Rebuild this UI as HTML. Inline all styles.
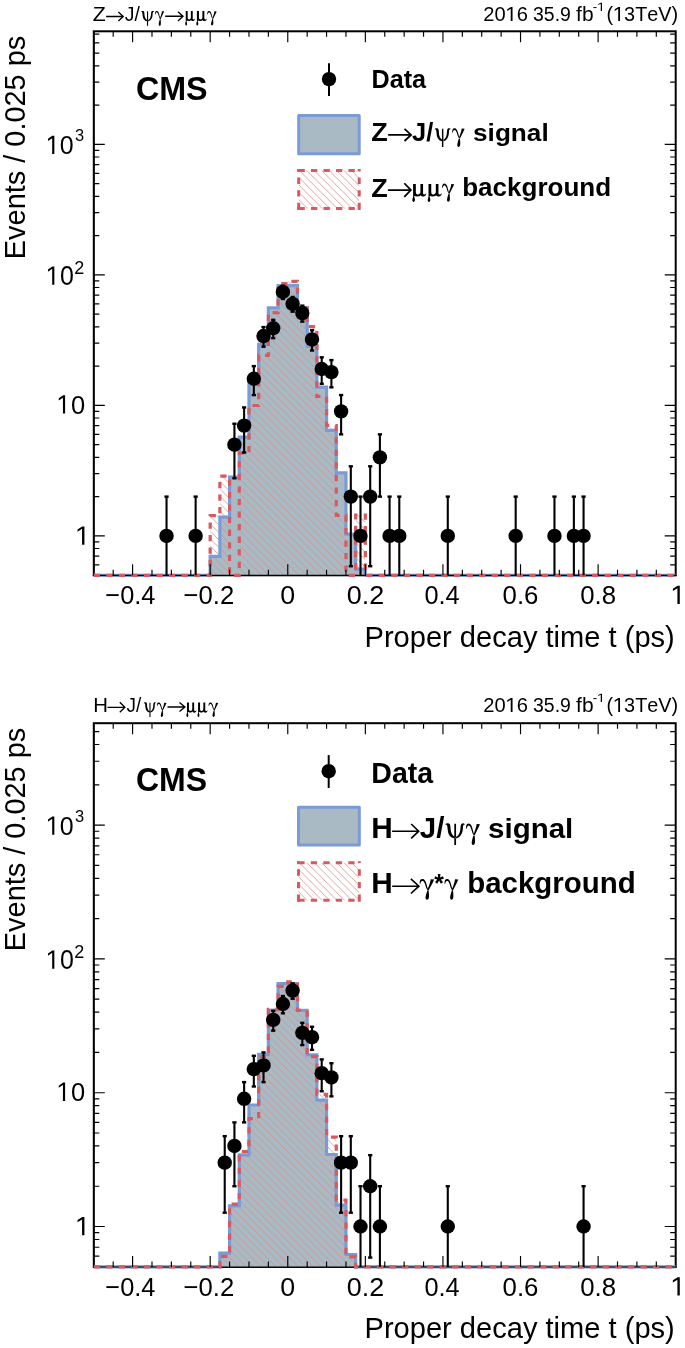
<!DOCTYPE html><html><head><meta charset="utf-8"><style>html,body{margin:0;padding:0;background:#fff;overflow:hidden;}svg{display:block;will-change:transform;}text{font-kerning:none;fill:#000;}</style></head><body>
<svg width="685" height="1348" viewBox="0 0 685 1348">
<rect width="685" height="1348" fill="#fff"/>
<defs>
<pattern id="h0" patternUnits="userSpaceOnUse" x="0" y="0.7" width="7.45" height="7.45"><path d="M-1 -1 L8.45 8.45 M6.45 -1 L8.45 1 M-1 6.45 L1 8.45" stroke="#d48c84" stroke-width="0.8" fill="none"/></pattern>
<pattern id="h1" patternUnits="userSpaceOnUse" x="0" y="7.3" width="7.45" height="7.45"><path d="M-1 -1 L8.45 8.45 M6.45 -1 L8.45 1 M-1 6.45 L1 8.45" stroke="#d48c84" stroke-width="0.8" fill="none"/></pattern>
<pattern id="hL0" patternUnits="userSpaceOnUse" x="0" y="5.3" width="7.45" height="7.45"><path d="M-1 -1 L8.45 8.45 M6.45 -1 L8.45 1 M-1 6.45 L1 8.45" stroke="#d48c84" stroke-width="0.8" fill="none"/></pattern>
<pattern id="hL1" patternUnits="userSpaceOnUse" x="0" y="4.6" width="7.45" height="7.45"><path d="M-1 -1 L8.45 8.45 M6.45 -1 L8.45 1 M-1 6.45 L1 8.45" stroke="#d48c84" stroke-width="0.8" fill="none"/></pattern>
</defs>
<rect x="93.8" y="31.3" width="581.9" height="544" fill="none" stroke="#000" stroke-width="2"/>
<path d="M93.8 575.3 L210.18 575.3 L210.18 556.3 L219.878 556.3 L219.878 517.2 L229.577 517.2 L229.577 477.2 L239.275 477.2 L239.275 437.2 L248.973 437.2 L248.973 383.9 L258.672 383.9 L258.672 344.4 L268.37 344.4 L268.37 307.8 L278.068 307.8 L278.068 285.7 L297.465 285.7 L297.465 307.6 L307.163 307.6 L307.163 346.1 L316.862 346.1 L316.862 387.1 L326.56 387.1 L326.56 430.4 L336.258 430.4 L336.258 472.8 L345.957 472.8 L345.957 534.1 L355.655 534.1 L355.655 569.1 L365.353 569.1 L365.353 575.3 L675.7 575.3 L675.7 575.3 L93.8 575.3 Z" fill="#aabac5"/>
<path d="M93.8 575.3 L210.18 575.3 L210.18 515.6 L219.878 515.6 L219.878 476.1 L229.577 476.1 L229.577 575.3 L239.275 575.3 L239.275 453.1 L248.973 453.1 L248.973 405.5 L258.672 405.5 L258.672 355.3 L268.37 355.3 L268.37 312.7 L278.068 312.7 L278.068 283.7 L287.767 283.7 L287.767 281.3 L297.465 281.3 L297.465 308 L307.163 308 L307.163 326.6 L316.862 326.6 L316.862 396.5 L326.56 396.5 L326.56 425.5 L336.258 425.5 L336.258 515.4 L345.957 515.4 L345.957 575.3 L355.655 575.3 L355.655 515 L365.353 515 L365.353 575.3 L675.7 575.3 L675.7 575.3 L93.8 575.3 Z" fill="url(#h0)"/>
<path d="M93.8 575.3 L210.18 575.3 L210.18 556.3 L219.878 556.3 L219.878 517.2 L229.577 517.2 L229.577 477.2 L239.275 477.2 L239.275 437.2 L248.973 437.2 L248.973 383.9 L258.672 383.9 L258.672 344.4 L268.37 344.4 L268.37 307.8 L278.068 307.8 L278.068 285.7 L297.465 285.7 L297.465 307.6 L307.163 307.6 L307.163 346.1 L316.862 346.1 L316.862 387.1 L326.56 387.1 L326.56 430.4 L336.258 430.4 L336.258 472.8 L345.957 472.8 L345.957 534.1 L355.655 534.1 L355.655 569.1 L365.353 569.1 L365.353 575.3 L675.7 575.3" fill="none" stroke="#7b9bd6" stroke-width="3.2" stroke-linejoin="miter"/>
<path d="M92.8 575.4 H676.7 M93.8 31.3 V575.3" stroke="#000" stroke-width="1.1" fill="none"/>
<path d="M93.8 575.3 L210.18 575.3 L210.18 515.6 L219.878 515.6 L219.878 476.1 L229.577 476.1 L229.577 575.3 L239.275 575.3 L239.275 453.1 L248.973 453.1 L248.973 405.5 L258.672 405.5 L258.672 355.3 L268.37 355.3 L268.37 312.7 L278.068 312.7 L278.068 283.7 L287.767 283.7 L287.767 281.3 L297.465 281.3 L297.465 308 L307.163 308 L307.163 326.6 L316.862 326.6 L316.862 396.5 L326.56 396.5 L326.56 425.5 L336.258 425.5 L336.258 515.4 L345.957 515.4 L345.957 575.3 L355.655 575.3 L355.655 515 L365.353 515 L365.353 575.3 L675.7 575.3" fill="none" stroke="#d65a60" stroke-width="3.2" stroke-dasharray="6.3 6.248" stroke-dashoffset="0.15" stroke-linejoin="miter"/>
<path d="M113.197 575.3 V569.8 M113.197 31.3 V36.8 M132.593 575.3 V564.3 M132.593 31.3 V42.3 M151.99 575.3 V569.8 M151.99 31.3 V36.8 M171.387 575.3 V569.8 M171.387 31.3 V36.8 M190.783 575.3 V569.8 M190.783 31.3 V36.8 M210.18 575.3 V564.3 M210.18 31.3 V42.3 M229.577 575.3 V569.8 M229.577 31.3 V36.8 M248.973 575.3 V569.8 M248.973 31.3 V36.8 M268.37 575.3 V569.8 M268.37 31.3 V36.8 M287.767 575.3 V564.3 M287.767 31.3 V42.3 M307.163 575.3 V569.8 M307.163 31.3 V36.8 M326.56 575.3 V569.8 M326.56 31.3 V36.8 M345.957 575.3 V569.8 M345.957 31.3 V36.8 M365.353 575.3 V564.3 M365.353 31.3 V42.3 M384.75 575.3 V569.8 M384.75 31.3 V36.8 M404.147 575.3 V569.8 M404.147 31.3 V36.8 M423.543 575.3 V569.8 M423.543 31.3 V36.8 M442.94 575.3 V564.3 M442.94 31.3 V42.3 M462.337 575.3 V569.8 M462.337 31.3 V36.8 M481.733 575.3 V569.8 M481.733 31.3 V36.8 M501.13 575.3 V569.8 M501.13 31.3 V36.8 M520.527 575.3 V564.3 M520.527 31.3 V42.3 M539.923 575.3 V569.8 M539.923 31.3 V36.8 M559.32 575.3 V569.8 M559.32 31.3 V36.8 M578.717 575.3 V569.8 M578.717 31.3 V36.8 M598.113 575.3 V564.3 M598.113 31.3 V42.3 M617.51 575.3 V569.8 M617.51 31.3 V36.8 M636.907 575.3 V569.8 M636.907 31.3 V36.8 M656.303 575.3 V569.8 M656.303 31.3 V36.8 M93.8 564.851 H99.3 M675.7 564.851 H670.2 M93.8 556.115 H99.3 M675.7 556.115 H670.2 M93.8 548.547 H99.3 M675.7 548.547 H670.2 M93.8 541.871 H99.3 M675.7 541.871 H670.2 M93.8 535.9 H104.8 M675.7 535.9 H664.7 M93.8 496.616 H99.3 M675.7 496.616 H670.2 M93.8 473.636 H99.3 M675.7 473.636 H670.2 M93.8 457.331 H99.3 M675.7 457.331 H670.2 M93.8 444.684 H99.3 M675.7 444.684 H670.2 M93.8 434.351 H99.3 M675.7 434.351 H670.2 M93.8 425.615 H99.3 M675.7 425.615 H670.2 M93.8 418.047 H99.3 M675.7 418.047 H670.2 M93.8 411.371 H99.3 M675.7 411.371 H670.2 M93.8 405.4 H104.8 M675.7 405.4 H664.7 M93.8 366.116 H99.3 M675.7 366.116 H670.2 M93.8 343.136 H99.3 M675.7 343.136 H670.2 M93.8 326.831 H99.3 M675.7 326.831 H670.2 M93.8 314.184 H99.3 M675.7 314.184 H670.2 M93.8 303.851 H99.3 M675.7 303.851 H670.2 M93.8 295.115 H99.3 M675.7 295.115 H670.2 M93.8 287.547 H99.3 M675.7 287.547 H670.2 M93.8 280.871 H99.3 M675.7 280.871 H670.2 M93.8 274.9 H104.8 M675.7 274.9 H664.7 M93.8 235.616 H99.3 M675.7 235.616 H670.2 M93.8 212.636 H99.3 M675.7 212.636 H670.2 M93.8 196.331 H99.3 M675.7 196.331 H670.2 M93.8 183.684 H99.3 M675.7 183.684 H670.2 M93.8 173.351 H99.3 M675.7 173.351 H670.2 M93.8 164.615 H99.3 M675.7 164.615 H670.2 M93.8 157.047 H99.3 M675.7 157.047 H670.2 M93.8 150.371 H99.3 M675.7 150.371 H670.2 M93.8 144.4 H104.8 M675.7 144.4 H664.7 M93.8 105.116 H99.3 M675.7 105.116 H670.2 M93.8 82.136 H99.3 M675.7 82.136 H670.2 M93.8 65.831 H99.3 M675.7 65.831 H670.2 M93.8 53.184 H99.3 M675.7 53.184 H670.2 M93.8 42.851 H99.3 M675.7 42.851 H670.2 M93.8 34.115 H99.3 M675.7 34.115 H670.2" stroke="#000" stroke-width="1.15" fill="none"/>
<g fill="#000"><path d="M166.538 496.616 V575.3" stroke="#000" stroke-width="2.1"/><rect x="164.438" y="495.416" width="4.2" height="2.4"/><circle cx="166.538" cy="535.9" r="7.2"/><path d="M195.633 496.616 V575.3" stroke="#000" stroke-width="2.1"/><rect x="193.533" y="495.416" width="4.2" height="2.4"/><circle cx="195.633" cy="535.9" r="7.2"/><path d="M234.426 423.735 V478.281" stroke="#000" stroke-width="2.1"/><rect x="232.326" y="422.535" width="4.2" height="2.4"/><rect x="232.326" y="477.081" width="4.2" height="2.4"/><circle cx="234.426" cy="444.684" r="7.2"/><path d="M244.124 407.444 V452.522" stroke="#000" stroke-width="2.1"/><rect x="242.024" y="406.244" width="4.2" height="2.4"/><rect x="242.024" y="451.322" width="4.2" height="2.4"/><circle cx="244.124" cy="425.615" r="7.2"/><path d="M253.822 366.116 V395.067" stroke="#000" stroke-width="2.1"/><rect x="251.722" y="364.916" width="4.2" height="2.4"/><rect x="251.722" y="393.867" width="4.2" height="2.4"/><circle cx="253.822" cy="378.762" r="7.2"/><path d="M263.521 327.071 V346.705" stroke="#000" stroke-width="2.1"/><rect x="261.421" y="325.871" width="4.2" height="2.4"/><rect x="261.421" y="345.505" width="4.2" height="2.4"/><circle cx="263.521" cy="336.042" r="7.2"/><path d="M273.219 319.848 V338.156" stroke="#000" stroke-width="2.1"/><rect x="271.119" y="318.648" width="4.2" height="2.4"/><rect x="271.119" y="336.956" width="4.2" height="2.4"/><circle cx="273.219" cy="328.266" r="7.2"/><path d="M282.918 285.733 V298.969" stroke="#000" stroke-width="2.1"/><rect x="280.817" y="284.533" width="4.2" height="2.4"/><rect x="280.817" y="297.769" width="4.2" height="2.4"/><circle cx="282.918" cy="291.965" r="7.2"/><path d="M292.616 296.97 V311.685" stroke="#000" stroke-width="2.1"/><rect x="290.516" y="295.77" width="4.2" height="2.4"/><rect x="290.516" y="310.485" width="4.2" height="2.4"/><circle cx="292.616" cy="303.851" r="7.2"/><path d="M302.314 305.635 V321.612" stroke="#000" stroke-width="2.1"/><rect x="300.214" y="304.435" width="4.2" height="2.4"/><rect x="300.214" y="320.412" width="4.2" height="2.4"/><circle cx="302.314" cy="313.062" r="7.2"/><path d="M312.013 330.252 V350.503" stroke="#000" stroke-width="2.1"/><rect x="309.913" y="329.052" width="4.2" height="2.4"/><rect x="309.913" y="349.303" width="4.2" height="2.4"/><circle cx="312.013" cy="339.478" r="7.2"/><path d="M321.711 357.317 V383.793" stroke="#000" stroke-width="2.1"/><rect x="319.611" y="356.117" width="4.2" height="2.4"/><rect x="319.611" y="382.593" width="4.2" height="2.4"/><circle cx="321.711" cy="369.023" r="7.2"/><path d="M331.409 360.092 V387.321" stroke="#000" stroke-width="2.1"/><rect x="329.309" y="358.892" width="4.2" height="2.4"/><rect x="329.309" y="386.121" width="4.2" height="2.4"/><circle cx="331.409" cy="372.087" r="7.2"/><path d="M341.108 395.067 V434.351" stroke="#000" stroke-width="2.1"/><rect x="339.007" y="393.867" width="4.2" height="2.4"/><rect x="339.007" y="433.151" width="4.2" height="2.4"/><circle cx="341.108" cy="411.371" r="7.2"/><path d="M350.806 466.306 V566.21" stroke="#000" stroke-width="2.1"/><rect x="348.706" y="465.106" width="4.2" height="2.4"/><rect x="348.706" y="565.01" width="4.2" height="2.4"/><circle cx="350.806" cy="496.616" r="7.2"/><path d="M360.504 496.616 V575.3" stroke="#000" stroke-width="2.1"/><rect x="358.404" y="495.416" width="4.2" height="2.4"/><circle cx="360.504" cy="535.9" r="7.2"/><path d="M370.203 466.306 V566.21" stroke="#000" stroke-width="2.1"/><rect x="368.103" y="465.106" width="4.2" height="2.4"/><rect x="368.103" y="565.01" width="4.2" height="2.4"/><circle cx="370.203" cy="496.616" r="7.2"/><path d="M379.901 434.351 V496.616" stroke="#000" stroke-width="2.1"/><rect x="377.801" y="433.151" width="4.2" height="2.4"/><rect x="377.801" y="495.416" width="4.2" height="2.4"/><circle cx="379.901" cy="457.331" r="7.2"/><path d="M389.599 496.616 V575.3" stroke="#000" stroke-width="2.1"/><rect x="387.499" y="495.416" width="4.2" height="2.4"/><circle cx="389.599" cy="535.9" r="7.2"/><path d="M399.298 496.616 V575.3" stroke="#000" stroke-width="2.1"/><rect x="397.198" y="495.416" width="4.2" height="2.4"/><circle cx="399.298" cy="535.9" r="7.2"/><path d="M447.789 496.616 V575.3" stroke="#000" stroke-width="2.1"/><rect x="445.689" y="495.416" width="4.2" height="2.4"/><circle cx="447.789" cy="535.9" r="7.2"/><path d="M515.678 496.616 V575.3" stroke="#000" stroke-width="2.1"/><rect x="513.577" y="495.416" width="4.2" height="2.4"/><circle cx="515.678" cy="535.9" r="7.2"/><path d="M554.471 496.616 V575.3" stroke="#000" stroke-width="2.1"/><rect x="552.371" y="495.416" width="4.2" height="2.4"/><circle cx="554.471" cy="535.9" r="7.2"/><path d="M573.868 496.616 V575.3" stroke="#000" stroke-width="2.1"/><rect x="571.768" y="495.416" width="4.2" height="2.4"/><circle cx="573.868" cy="535.9" r="7.2"/><path d="M583.566 496.616 V575.3" stroke="#000" stroke-width="2.1"/><rect x="581.466" y="495.416" width="4.2" height="2.4"/><circle cx="583.566" cy="535.9" r="7.2"/></g>
<text transform="translate(45.998 154.1) scale(0.949 1)" font-family="Liberation Sans" font-size="26.309"> 0</text><path transform="translate(45.998 154.1) scale(0.012 -0.013)" d="M515 0L515 1225L165 1005L165 1175L530 1409L696 1409L696 0Z"/>
<text transform="translate(74.973 141.444) scale(1.031 1)" font-family="Liberation Sans" font-size="15.96">3</text>
<text transform="translate(45.998 284.7) scale(0.934 1)" font-family="Liberation Sans" font-size="26.745"> 0</text><path transform="translate(45.998 284.7) scale(0.012 -0.013)" d="M515 0L515 1225L165 1005L165 1175L530 1409L696 1409L696 0Z"/>
<text transform="translate(74.295 273.9) scale(1.03 1)" font-family="Liberation Sans" font-size="17.472">2</text>
<text transform="translate(56.76 413.6) scale(0.968 1)" font-family="Liberation Sans" font-size="26.309"> 0</text><path transform="translate(56.76 413.6) scale(0.012 -0.013)" d="M515 0L515 1225L165 1005L165 1175L530 1409L696 1409L696 0Z"/>
<text transform="translate(75.375 544.7) scale(0.96 1)" font-family="Liberation Sans" font-size="26.745"> </text><path transform="translate(75.375 544.7) scale(0.013 -0.013)" d="M515 0L515 1225L165 1005L165 1175L530 1409L696 1409L696 0Z"/>
<text transform="translate(105.349 604.1) scale(0.954 1)" font-family="Liberation Sans" font-size="26.599">−0.4</text>
<text transform="translate(183.535 604.1) scale(0.965 1)" font-family="Liberation Sans" font-size="26.599">−0.2</text>
<text transform="translate(280.354 604.1) scale(1.007 1)" font-family="Liberation Sans" font-size="26.599">0</text>
<text transform="translate(346.746 604.1) scale(1.014 1)" font-family="Liberation Sans" font-size="26.599">0.2</text>
<text transform="translate(424.41 604.1) scale(0.953 1)" font-family="Liberation Sans" font-size="26.599">0.4</text>
<text transform="translate(502.593 604.1) scale(0.97 1)" font-family="Liberation Sans" font-size="26.599">0.6</text>
<text transform="translate(580.18 604.1) scale(0.97 1)" font-family="Liberation Sans" font-size="26.599">0.8</text>
<text transform="translate(670.725 604.1) scale(0.97 1)" font-family="Liberation Sans" font-size="26.599"> </text><path transform="translate(670.725 604.1) scale(0.013 -0.013)" d="M515 0L515 1225L165 1005L165 1175L530 1409L696 1409L696 0Z"/>
<text transform="translate(364.515 646.8) scale(0.962 1)" font-family="Liberation Sans" font-size="30.233">Proper decay time t (ps)</text>
<text transform="translate(25 259.173) rotate(-90) scale(0.998 1)" font-family="Liberation Sans" font-size="28.981">Events / 0.025 ps</text>
<text transform="translate(483.187 21.1) scale(0.99 1)" font-family="Liberation Sans" font-size="20.349">20 6</text><path transform="translate(505.586 21.1) scale(0.01 -0.01)" d="M515 0L515 1225L165 1005L165 1175L530 1409L696 1409L696 0Z"/>
<text transform="translate(533.059 21.1) scale(0.956 1)" font-family="Liberation Sans" font-size="20.349">35.9</text>
<text transform="translate(576.103 21.1) scale(1.03 1)" font-family="Liberation Sans" font-size="20.349">fb</text>
<text transform="translate(592.708 11.1) scale(1.078 1)" font-family="Liberation Sans" font-size="12.355">- </text><path transform="translate(597.143 11.1) scale(0.007 -0.006)" d="M515 0L515 1225L165 1005L165 1175L530 1409L696 1409L696 0Z"/>
<text transform="translate(606.47 21.1) scale(0.982 1)" font-family="Liberation Sans" font-size="20.204">( 3TeV)</text><path transform="translate(613.076 21.1) scale(0.01 -0.01)" d="M515 0L515 1225L165 1005L165 1175L530 1409L696 1409L696 0Z"/>
<rect x="93.8" y="723.2" width="581.9" height="543.7" fill="none" stroke="#000" stroke-width="2"/>
<path d="M93.8 1266.9 L219.878 1266.9 L219.878 1253.2 L229.577 1253.2 L229.577 1205.9 L239.275 1205.9 L239.275 1154.8 L248.973 1154.8 L248.973 1105 L258.672 1105 L258.672 1054.4 L268.37 1054.4 L268.37 1010 L278.068 1010 L278.068 983.7 L297.465 983.7 L297.465 1010.3 L307.163 1010.3 L307.163 1054.9 L316.862 1054.9 L316.862 1100.1 L326.56 1100.1 L326.56 1154.5 L336.258 1154.5 L336.258 1205.1 L345.957 1205.1 L345.957 1254.5 L355.655 1254.5 L355.655 1266.9 L675.7 1266.9 L675.7 1266.9 L93.8 1266.9 Z" fill="#aabac5"/>
<path d="M93.8 1266.9 L219.878 1266.9 L219.878 1256.4 L229.577 1256.4 L229.577 1204.1 L239.275 1204.1 L239.275 1151.5 L248.973 1151.5 L248.973 1118.7 L258.672 1118.7 L258.672 1056.5 L268.37 1056.5 L268.37 1009.3 L278.068 1009.3 L278.068 986.3 L287.767 986.3 L287.767 981.9 L297.465 981.9 L297.465 1010.4 L307.163 1010.4 L307.163 1056.7 L316.862 1056.7 L316.862 1094.3 L326.56 1094.3 L326.56 1137.2 L336.258 1137.2 L336.258 1200 L345.957 1200 L345.957 1256.8 L355.655 1256.8 L355.655 1266.9 L675.7 1266.9 L675.7 1266.9 L93.8 1266.9 Z" fill="url(#h1)"/>
<path d="M93.8 1266.9 L219.878 1266.9 L219.878 1253.2 L229.577 1253.2 L229.577 1205.9 L239.275 1205.9 L239.275 1154.8 L248.973 1154.8 L248.973 1105 L258.672 1105 L258.672 1054.4 L268.37 1054.4 L268.37 1010 L278.068 1010 L278.068 983.7 L297.465 983.7 L297.465 1010.3 L307.163 1010.3 L307.163 1054.9 L316.862 1054.9 L316.862 1100.1 L326.56 1100.1 L326.56 1154.5 L336.258 1154.5 L336.258 1205.1 L345.957 1205.1 L345.957 1254.5 L355.655 1254.5 L355.655 1266.9 L675.7 1266.9" fill="none" stroke="#7b9bd6" stroke-width="3.2" stroke-linejoin="miter"/>
<path d="M92.8 1267 H676.7 M93.8 723.2 V1266.9" stroke="#000" stroke-width="1.1" fill="none"/>
<path d="M93.8 1266.9 L219.878 1266.9 L219.878 1256.4 L229.577 1256.4 L229.577 1204.1 L239.275 1204.1 L239.275 1151.5 L248.973 1151.5 L248.973 1118.7 L258.672 1118.7 L258.672 1056.5 L268.37 1056.5 L268.37 1009.3 L278.068 1009.3 L278.068 986.3 L287.767 986.3 L287.767 981.9 L297.465 981.9 L297.465 1010.4 L307.163 1010.4 L307.163 1056.7 L316.862 1056.7 L316.862 1094.3 L326.56 1094.3 L326.56 1137.2 L336.258 1137.2 L336.258 1200 L345.957 1200 L345.957 1256.8 L355.655 1256.8 L355.655 1266.9 L675.7 1266.9" fill="none" stroke="#d65a60" stroke-width="3.2" stroke-dasharray="6.3 6.248" stroke-dashoffset="0.15" stroke-linejoin="miter"/>
<path d="M113.197 1266.9 V1261.4 M113.197 723.2 V728.7 M132.593 1266.9 V1255.9 M132.593 723.2 V734.2 M151.99 1266.9 V1261.4 M151.99 723.2 V728.7 M171.387 1266.9 V1261.4 M171.387 723.2 V728.7 M190.783 1266.9 V1261.4 M190.783 723.2 V728.7 M210.18 1266.9 V1255.9 M210.18 723.2 V734.2 M229.577 1266.9 V1261.4 M229.577 723.2 V728.7 M248.973 1266.9 V1261.4 M248.973 723.2 V728.7 M268.37 1266.9 V1261.4 M268.37 723.2 V728.7 M287.767 1266.9 V1255.9 M287.767 723.2 V734.2 M307.163 1266.9 V1261.4 M307.163 723.2 V728.7 M326.56 1266.9 V1261.4 M326.56 723.2 V728.7 M345.957 1266.9 V1261.4 M345.957 723.2 V728.7 M365.353 1266.9 V1255.9 M365.353 723.2 V734.2 M384.75 1266.9 V1261.4 M384.75 723.2 V728.7 M404.147 1266.9 V1261.4 M404.147 723.2 V728.7 M423.543 1266.9 V1261.4 M423.543 723.2 V728.7 M442.94 1266.9 V1255.9 M442.94 723.2 V734.2 M462.337 1266.9 V1261.4 M462.337 723.2 V728.7 M481.733 1266.9 V1261.4 M481.733 723.2 V728.7 M501.13 1266.9 V1261.4 M501.13 723.2 V728.7 M520.527 1266.9 V1255.9 M520.527 723.2 V734.2 M539.923 1266.9 V1261.4 M539.923 723.2 V728.7 M559.32 1266.9 V1261.4 M559.32 723.2 V728.7 M578.717 1266.9 V1261.4 M578.717 723.2 V728.7 M598.113 1266.9 V1255.9 M598.113 723.2 V734.2 M617.51 1266.9 V1261.4 M617.51 723.2 V728.7 M636.907 1266.9 V1261.4 M636.907 723.2 V728.7 M656.303 1266.9 V1261.4 M656.303 723.2 V728.7 M93.8 1256.183 H99.3 M675.7 1256.183 H670.2 M93.8 1247.226 H99.3 M675.7 1247.226 H670.2 M93.8 1239.467 H99.3 M675.7 1239.467 H670.2 M93.8 1232.622 H99.3 M675.7 1232.622 H670.2 M93.8 1226.5 H104.8 M675.7 1226.5 H664.7 M93.8 1186.222 H99.3 M675.7 1186.222 H670.2 M93.8 1162.661 H99.3 M675.7 1162.661 H670.2 M93.8 1145.944 H99.3 M675.7 1145.944 H670.2 M93.8 1132.978 H99.3 M675.7 1132.978 H670.2 M93.8 1122.383 H99.3 M675.7 1122.383 H670.2 M93.8 1113.426 H99.3 M675.7 1113.426 H670.2 M93.8 1105.667 H99.3 M675.7 1105.667 H670.2 M93.8 1098.822 H99.3 M675.7 1098.822 H670.2 M93.8 1092.7 H104.8 M675.7 1092.7 H664.7 M93.8 1052.422 H99.3 M675.7 1052.422 H670.2 M93.8 1028.861 H99.3 M675.7 1028.861 H670.2 M93.8 1012.144 H99.3 M675.7 1012.144 H670.2 M93.8 999.178 H99.3 M675.7 999.178 H670.2 M93.8 988.583 H99.3 M675.7 988.583 H670.2 M93.8 979.626 H99.3 M675.7 979.626 H670.2 M93.8 971.867 H99.3 M675.7 971.867 H670.2 M93.8 965.022 H99.3 M675.7 965.022 H670.2 M93.8 958.9 H104.8 M675.7 958.9 H664.7 M93.8 918.622 H99.3 M675.7 918.622 H670.2 M93.8 895.061 H99.3 M675.7 895.061 H670.2 M93.8 878.344 H99.3 M675.7 878.344 H670.2 M93.8 865.378 H99.3 M675.7 865.378 H670.2 M93.8 854.783 H99.3 M675.7 854.783 H670.2 M93.8 845.826 H99.3 M675.7 845.826 H670.2 M93.8 838.067 H99.3 M675.7 838.067 H670.2 M93.8 831.222 H99.3 M675.7 831.222 H670.2 M93.8 825.1 H104.8 M675.7 825.1 H664.7 M93.8 784.822 H99.3 M675.7 784.822 H670.2 M93.8 761.261 H99.3 M675.7 761.261 H670.2 M93.8 744.544 H99.3 M675.7 744.544 H670.2 M93.8 731.578 H99.3 M675.7 731.578 H670.2" stroke="#000" stroke-width="1.15" fill="none"/>
<g fill="#000"><path d="M224.728 1136.178 V1212.705" stroke="#000" stroke-width="2.1"/><rect x="222.628" y="1134.978" width="4.2" height="2.4"/><rect x="222.628" y="1211.505" width="4.2" height="2.4"/><circle cx="224.728" cy="1162.661" r="7.2"/><path d="M234.426 1122.383 V1186.222" stroke="#000" stroke-width="2.1"/><rect x="232.326" y="1121.183" width="4.2" height="2.4"/><rect x="232.326" y="1185.022" width="4.2" height="2.4"/><circle cx="234.426" cy="1145.944" r="7.2"/><path d="M244.124 1082.106 V1122.383" stroke="#000" stroke-width="2.1"/><rect x="242.024" y="1080.906" width="4.2" height="2.4"/><rect x="242.024" y="1121.183" width="4.2" height="2.4"/><circle cx="244.124" cy="1098.822" r="7.2"/><path d="M253.822 1055.793 V1086.495" stroke="#000" stroke-width="2.1"/><rect x="251.722" y="1054.593" width="4.2" height="2.4"/><rect x="251.722" y="1085.295" width="4.2" height="2.4"/><circle cx="253.822" cy="1069.139" r="7.2"/><path d="M263.521 1052.422 V1082.106" stroke="#000" stroke-width="2.1"/><rect x="261.421" y="1051.222" width="4.2" height="2.4"/><rect x="261.421" y="1080.906" width="4.2" height="2.4"/><circle cx="263.521" cy="1065.389" r="7.2"/><path d="M273.219 1010.829 V1030.663" stroke="#000" stroke-width="2.1"/><rect x="271.119" y="1009.629" width="4.2" height="2.4"/><rect x="271.119" y="1029.463" width="4.2" height="2.4"/><circle cx="273.219" cy="1019.904" r="7.2"/><path d="M282.918 996.031 V1013.292" stroke="#000" stroke-width="2.1"/><rect x="280.817" y="994.831" width="4.2" height="2.4"/><rect x="280.817" y="1012.092" width="4.2" height="2.4"/><circle cx="282.918" cy="1004.023" r="7.2"/><path d="M292.616 983.384 V998.733" stroke="#000" stroke-width="2.1"/><rect x="290.516" y="982.184" width="4.2" height="2.4"/><rect x="290.516" y="997.533" width="4.2" height="2.4"/><circle cx="292.616" cy="990.553" r="7.2"/><path d="M302.314 1022.812 V1045.042" stroke="#000" stroke-width="2.1"/><rect x="300.214" y="1021.612" width="4.2" height="2.4"/><rect x="300.214" y="1043.842" width="4.2" height="2.4"/><circle cx="302.314" cy="1032.87" r="7.2"/><path d="M312.013 1026.77 V1049.862" stroke="#000" stroke-width="2.1"/><rect x="309.913" y="1025.57" width="4.2" height="2.4"/><rect x="309.913" y="1048.662" width="4.2" height="2.4"/><circle cx="312.013" cy="1037.177" r="7.2"/><path d="M321.711 1059.385 V1091.218" stroke="#000" stroke-width="2.1"/><rect x="319.611" y="1058.185" width="4.2" height="2.4"/><rect x="319.611" y="1090.018" width="4.2" height="2.4"/><circle cx="321.711" cy="1073.148" r="7.2"/><path d="M331.409 1063.23 V1096.33" stroke="#000" stroke-width="2.1"/><rect x="329.309" y="1062.03" width="4.2" height="2.4"/><rect x="329.309" y="1095.13" width="4.2" height="2.4"/><circle cx="331.409" cy="1077.454" r="7.2"/><path d="M341.108 1136.178 V1212.705" stroke="#000" stroke-width="2.1"/><rect x="339.007" y="1134.978" width="4.2" height="2.4"/><rect x="339.007" y="1211.505" width="4.2" height="2.4"/><circle cx="341.108" cy="1162.661" r="7.2"/><path d="M350.806 1136.178 V1212.705" stroke="#000" stroke-width="2.1"/><rect x="348.706" y="1134.978" width="4.2" height="2.4"/><rect x="348.706" y="1211.505" width="4.2" height="2.4"/><circle cx="350.806" cy="1162.661" r="7.2"/><path d="M360.504 1186.222 V1266.9" stroke="#000" stroke-width="2.1"/><rect x="358.404" y="1185.022" width="4.2" height="2.4"/><circle cx="360.504" cy="1226.5" r="7.2"/><path d="M370.203 1155.146 V1257.576" stroke="#000" stroke-width="2.1"/><rect x="368.103" y="1153.946" width="4.2" height="2.4"/><rect x="368.103" y="1256.376" width="4.2" height="2.4"/><circle cx="370.203" cy="1186.222" r="7.2"/><path d="M379.901 1186.222 V1266.9" stroke="#000" stroke-width="2.1"/><rect x="377.801" y="1185.022" width="4.2" height="2.4"/><circle cx="379.901" cy="1226.5" r="7.2"/><path d="M447.789 1186.222 V1266.9" stroke="#000" stroke-width="2.1"/><rect x="445.689" y="1185.022" width="4.2" height="2.4"/><circle cx="447.789" cy="1226.5" r="7.2"/><path d="M583.566 1186.222 V1266.9" stroke="#000" stroke-width="2.1"/><rect x="581.466" y="1185.022" width="4.2" height="2.4"/><circle cx="583.566" cy="1226.5" r="7.2"/></g>
<text transform="translate(45.998 834.8) scale(0.949 1)" font-family="Liberation Sans" font-size="26.309"> 0</text><path transform="translate(45.998 834.8) scale(0.012 -0.013)" d="M515 0L515 1225L165 1005L165 1175L530 1409L696 1409L696 0Z"/>
<text transform="translate(74.973 822.144) scale(1.031 1)" font-family="Liberation Sans" font-size="15.96">3</text>
<text transform="translate(45.998 968.7) scale(0.934 1)" font-family="Liberation Sans" font-size="26.745"> 0</text><path transform="translate(45.998 968.7) scale(0.012 -0.013)" d="M515 0L515 1225L165 1005L165 1175L530 1409L696 1409L696 0Z"/>
<text transform="translate(74.295 957.9) scale(1.03 1)" font-family="Liberation Sans" font-size="17.472">2</text>
<text transform="translate(56.76 1100.9) scale(0.968 1)" font-family="Liberation Sans" font-size="26.309"> 0</text><path transform="translate(56.76 1100.9) scale(0.012 -0.013)" d="M515 0L515 1225L165 1005L165 1175L530 1409L696 1409L696 0Z"/>
<text transform="translate(75.375 1235.3) scale(0.96 1)" font-family="Liberation Sans" font-size="26.745"> </text><path transform="translate(75.375 1235.3) scale(0.013 -0.013)" d="M515 0L515 1225L165 1005L165 1175L530 1409L696 1409L696 0Z"/>
<text transform="translate(105.349 1295.6) scale(0.954 1)" font-family="Liberation Sans" font-size="26.599">−0.4</text>
<text transform="translate(183.535 1295.6) scale(0.965 1)" font-family="Liberation Sans" font-size="26.599">−0.2</text>
<text transform="translate(280.354 1295.6) scale(1.007 1)" font-family="Liberation Sans" font-size="26.599">0</text>
<text transform="translate(346.746 1295.6) scale(1.014 1)" font-family="Liberation Sans" font-size="26.599">0.2</text>
<text transform="translate(424.41 1295.6) scale(0.953 1)" font-family="Liberation Sans" font-size="26.599">0.4</text>
<text transform="translate(502.593 1295.6) scale(0.97 1)" font-family="Liberation Sans" font-size="26.599">0.6</text>
<text transform="translate(580.18 1295.6) scale(0.97 1)" font-family="Liberation Sans" font-size="26.599">0.8</text>
<text transform="translate(670.725 1295.6) scale(0.97 1)" font-family="Liberation Sans" font-size="26.599"> </text><path transform="translate(670.725 1295.6) scale(0.013 -0.013)" d="M515 0L515 1225L165 1005L165 1175L530 1409L696 1409L696 0Z"/>
<text transform="translate(364.515 1338.3) scale(0.962 1)" font-family="Liberation Sans" font-size="30.233">Proper decay time t (ps)</text>
<text transform="translate(25 951.173) rotate(-90) scale(0.998 1)" font-family="Liberation Sans" font-size="28.981">Events / 0.025 ps</text>
<text transform="translate(483.187 712.1) scale(0.99 1)" font-family="Liberation Sans" font-size="20.349">20 6</text><path transform="translate(505.586 712.1) scale(0.01 -0.01)" d="M515 0L515 1225L165 1005L165 1175L530 1409L696 1409L696 0Z"/>
<text transform="translate(533.059 712.1) scale(0.956 1)" font-family="Liberation Sans" font-size="20.349">35.9</text>
<text transform="translate(576.103 712.1) scale(1.03 1)" font-family="Liberation Sans" font-size="20.349">fb</text>
<text transform="translate(592.708 702.1) scale(1.078 1)" font-family="Liberation Sans" font-size="12.355">- </text><path transform="translate(597.143 702.1) scale(0.007 -0.006)" d="M515 0L515 1225L165 1005L165 1175L530 1409L696 1409L696 0Z"/>
<text transform="translate(606.47 712.1) scale(0.982 1)" font-family="Liberation Sans" font-size="20.204">( 3TeV)</text><path transform="translate(613.076 712.1) scale(0.01 -0.01)" d="M515 0L515 1225L165 1005L165 1175L530 1409L696 1409L696 0Z"/>
<text transform="translate(135.877 100.4) scale(0.978 1)" font-family="Liberation Sans" font-size="32.995" font-weight="bold">CMS</text>
<text transform="translate(135.885 791.3) scale(0.985 1)" font-family="Liberation Sans" font-size="32.559" font-weight="bold">CMS</text>
<text transform="translate(92.722 20.8) scale(1.096 1)" font-family="Liberation Sans" font-size="19.477">Z</text>
<path d="M106.1 16.5 H122.6 M118.4 11.95 L123.2 16.5 L118.4 21.05" stroke="#000" stroke-width="1.35" fill="none" stroke-linejoin="miter" stroke-miterlimit="10"/>
<text transform="translate(124.797 20.8) scale(0.997 1)" font-family="Liberation Sans" font-size="19.477">J/</text>
<path transform="translate(140.8 10.9) scale(13.3 14.9)" d="M0 0.05 L0.04 0.018 L0.1 0.003 L0.165 0 L0.215 0.015 L0.25 0.06 L0.265 0.12 L0.275 0.22 L0.285 0.32 L0.305 0.4 L0.34 0.48 L0.39 0.55 L0.44 0.595 L0.49 0.62 L0.49 0.7 L0.4 0.68 L0.31 0.64 L0.24 0.58 L0.185 0.5 L0.15 0.4 L0.135 0.3 L0.125 0.2 L0.11 0.12 L0.085 0.075 L0.045 0.06 Z M1 0.045 L0.96 0.015 L0.91 0 L0.855 0.005 L0.815 0.03 L0.79 0.075 L0.775 0.15 L0.765 0.25 L0.75 0.35 L0.72 0.44 L0.675 0.52 L0.62 0.58 L0.565 0.615 L0.53 0.625 L0.53 0.7 L0.62 0.68 L0.71 0.63 L0.78 0.56 L0.835 0.47 L0.87 0.38 L0.885 0.28 L0.893 0.18 L0.905 0.11 L0.93 0.07 L0.965 0.055 Z M0.462 0.024 L0.55 0.024 L0.55 1 L0.462 1 Z"/>
<path transform="translate(155 10.9) scale(9.1 14.9)" d="M0.011 0.239 L0 0.15 L0.03 0.075 L0.09 0.02 L0.172 0 L0.25 0.008 L0.32 0.04 L0.38 0.09 L0.43 0.16 L0.47 0.25 L0.506 0.34 L0.54 0.43 L0.56 0.48 L0.53 0.52 L0.465 0.45 L0.42 0.36 L0.38 0.275 L0.34 0.2 L0.29 0.14 L0.235 0.105 L0.18 0.095 L0.125 0.115 L0.08 0.16 L0.058 0.2 L0.05 0.245 Z M0.76 0.02 L1 0.03 L0.95 0.1 L0.9 0.18 L0.84 0.26 L0.77 0.35 L0.7 0.44 L0.655 0.5 L0.625 0.56 L0.53 0.56 L0.54 0.5 L0.575 0.44 L0.62 0.36 L0.67 0.27 L0.71 0.18 L0.74 0.1 Z M0.535 0.54 L0.5 0.62 L0.465 0.7 L0.43 0.79 L0.405 0.88 L0.42 0.95 L0.46 0.99 L0.506 1 L0.56 0.99 L0.61 0.955 L0.64 0.89 L0.645 0.8 L0.635 0.7 L0.625 0.62 L0.62 0.54 Z"/>
<path d="M165.2 16.3 H182.4 M178 11.7 L183 16.3 L178 20.9" stroke="#000" stroke-width="1.35" fill="none" stroke-linejoin="miter" stroke-miterlimit="10"/>
<path transform="translate(185.2 11) scale(9.7 14.5)" d="M0.057 0 L0.255 0 L0.255 0.46 L0.283 0.535 L0.33 0.572 L0.377 0.585 L0.43 0.582 L0.472 0.572 L0.52 0.545 L0.555 0.51 L0.585 0.46 L0.585 0 L0.774 0 L0.774 0.5 L0.79 0.55 L0.83 0.58 L0.88 0.59 L0.93 0.575 L0.97 0.545 L1 0.5 L1 0.55 L0.97 0.62 L0.91 0.67 L0.82 0.698 L0.72 0.695 L0.65 0.67 L0.6 0.625 L0.55 0.66 L0.47 0.685 L0.34 0.692 L0.23 0.678 L0.16 0.66 L0.13 0.69 L0.16 0.75 L0.185 0.83 L0.19 0.9 L0.17 0.96 L0.13 0.993 L0.094 1 L0.05 0.99 L0.015 0.95 L0 0.9 L0.01 0.83 L0.035 0.76 L0.065 0.7 L0.057 0.66 Z"/>
<path transform="translate(196.3 11) scale(10.4 14.5)" d="M0.057 0 L0.255 0 L0.255 0.46 L0.283 0.535 L0.33 0.572 L0.377 0.585 L0.43 0.582 L0.472 0.572 L0.52 0.545 L0.555 0.51 L0.585 0.46 L0.585 0 L0.774 0 L0.774 0.5 L0.79 0.55 L0.83 0.58 L0.88 0.59 L0.93 0.575 L0.97 0.545 L1 0.5 L1 0.55 L0.97 0.62 L0.91 0.67 L0.82 0.698 L0.72 0.695 L0.65 0.67 L0.6 0.625 L0.55 0.66 L0.47 0.685 L0.34 0.692 L0.23 0.678 L0.16 0.66 L0.13 0.69 L0.16 0.75 L0.185 0.83 L0.19 0.9 L0.17 0.96 L0.13 0.993 L0.094 1 L0.05 0.99 L0.015 0.95 L0 0.9 L0.01 0.83 L0.035 0.76 L0.065 0.7 L0.057 0.66 Z"/>
<path transform="translate(207.2 11) scale(9.5 14.5)" d="M0.011 0.239 L0 0.15 L0.03 0.075 L0.09 0.02 L0.172 0 L0.25 0.008 L0.32 0.04 L0.38 0.09 L0.43 0.16 L0.47 0.25 L0.506 0.34 L0.54 0.43 L0.56 0.48 L0.53 0.52 L0.465 0.45 L0.42 0.36 L0.38 0.275 L0.34 0.2 L0.29 0.14 L0.235 0.105 L0.18 0.095 L0.125 0.115 L0.08 0.16 L0.058 0.2 L0.05 0.245 Z M0.76 0.02 L1 0.03 L0.95 0.1 L0.9 0.18 L0.84 0.26 L0.77 0.35 L0.7 0.44 L0.655 0.5 L0.625 0.56 L0.53 0.56 L0.54 0.5 L0.575 0.44 L0.62 0.36 L0.67 0.27 L0.71 0.18 L0.74 0.1 Z M0.535 0.54 L0.5 0.62 L0.465 0.7 L0.43 0.79 L0.405 0.88 L0.42 0.95 L0.46 0.99 L0.506 1 L0.56 0.99 L0.61 0.955 L0.64 0.89 L0.645 0.8 L0.635 0.7 L0.625 0.62 L0.62 0.54 Z"/>
<text transform="translate(93.126 712.4) scale(1.032 1)" font-family="Liberation Sans" font-size="19.768">H</text>
<path d="M107.5 707.3 H124.3 M119.8 702.3 L124.9 707.3 L119.8 712.3" stroke="#000" stroke-width="1.35" fill="none" stroke-linejoin="miter" stroke-miterlimit="10"/>
<text transform="translate(126.505 712.4) scale(0.956 1)" font-family="Liberation Sans" font-size="19.768">J/</text>
<path transform="translate(143.7 702.3) scale(12.4 14.7)" d="M0 0.05 L0.04 0.018 L0.1 0.003 L0.165 0 L0.215 0.015 L0.25 0.06 L0.265 0.12 L0.275 0.22 L0.285 0.32 L0.305 0.4 L0.34 0.48 L0.39 0.55 L0.44 0.595 L0.49 0.62 L0.49 0.7 L0.4 0.68 L0.31 0.64 L0.24 0.58 L0.185 0.5 L0.15 0.4 L0.135 0.3 L0.125 0.2 L0.11 0.12 L0.085 0.075 L0.045 0.06 Z M1 0.045 L0.96 0.015 L0.91 0 L0.855 0.005 L0.815 0.03 L0.79 0.075 L0.775 0.15 L0.765 0.25 L0.75 0.35 L0.72 0.44 L0.675 0.52 L0.62 0.58 L0.565 0.615 L0.53 0.625 L0.53 0.7 L0.62 0.68 L0.71 0.63 L0.78 0.56 L0.835 0.47 L0.87 0.38 L0.885 0.28 L0.893 0.18 L0.905 0.11 L0.93 0.07 L0.965 0.055 Z M0.462 0.024 L0.55 0.024 L0.55 1 L0.462 1 Z"/>
<path transform="translate(156.9 702.5) scale(9.6 14.5)" d="M0.011 0.239 L0 0.15 L0.03 0.075 L0.09 0.02 L0.172 0 L0.25 0.008 L0.32 0.04 L0.38 0.09 L0.43 0.16 L0.47 0.25 L0.506 0.34 L0.54 0.43 L0.56 0.48 L0.53 0.52 L0.465 0.45 L0.42 0.36 L0.38 0.275 L0.34 0.2 L0.29 0.14 L0.235 0.105 L0.18 0.095 L0.125 0.115 L0.08 0.16 L0.058 0.2 L0.05 0.245 Z M0.76 0.02 L1 0.03 L0.95 0.1 L0.9 0.18 L0.84 0.26 L0.77 0.35 L0.7 0.44 L0.655 0.5 L0.625 0.56 L0.53 0.56 L0.54 0.5 L0.575 0.44 L0.62 0.36 L0.67 0.27 L0.71 0.18 L0.74 0.1 Z M0.535 0.54 L0.5 0.62 L0.465 0.7 L0.43 0.79 L0.405 0.88 L0.42 0.95 L0.46 0.99 L0.506 1 L0.56 0.99 L0.61 0.955 L0.64 0.89 L0.645 0.8 L0.635 0.7 L0.625 0.62 L0.62 0.54 Z"/>
<path d="M167.5 707 H184.3 M179.5 702.4 L184.9 707 L179.5 711.6" stroke="#000" stroke-width="1.35" fill="none" stroke-linejoin="miter" stroke-miterlimit="10"/>
<path transform="translate(186.4 702.6) scale(10 14.4)" d="M0.057 0 L0.255 0 L0.255 0.46 L0.283 0.535 L0.33 0.572 L0.377 0.585 L0.43 0.582 L0.472 0.572 L0.52 0.545 L0.555 0.51 L0.585 0.46 L0.585 0 L0.774 0 L0.774 0.5 L0.79 0.55 L0.83 0.58 L0.88 0.59 L0.93 0.575 L0.97 0.545 L1 0.5 L1 0.55 L0.97 0.62 L0.91 0.67 L0.82 0.698 L0.72 0.695 L0.65 0.67 L0.6 0.625 L0.55 0.66 L0.47 0.685 L0.34 0.692 L0.23 0.678 L0.16 0.66 L0.13 0.69 L0.16 0.75 L0.185 0.83 L0.19 0.9 L0.17 0.96 L0.13 0.993 L0.094 1 L0.05 0.99 L0.015 0.95 L0 0.9 L0.01 0.83 L0.035 0.76 L0.065 0.7 L0.057 0.66 Z"/>
<path transform="translate(197.5 702.6) scale(10 14.4)" d="M0.057 0 L0.255 0 L0.255 0.46 L0.283 0.535 L0.33 0.572 L0.377 0.585 L0.43 0.582 L0.472 0.572 L0.52 0.545 L0.555 0.51 L0.585 0.46 L0.585 0 L0.774 0 L0.774 0.5 L0.79 0.55 L0.83 0.58 L0.88 0.59 L0.93 0.575 L0.97 0.545 L1 0.5 L1 0.55 L0.97 0.62 L0.91 0.67 L0.82 0.698 L0.72 0.695 L0.65 0.67 L0.6 0.625 L0.55 0.66 L0.47 0.685 L0.34 0.692 L0.23 0.678 L0.16 0.66 L0.13 0.69 L0.16 0.75 L0.185 0.83 L0.19 0.9 L0.17 0.96 L0.13 0.993 L0.094 1 L0.05 0.99 L0.015 0.95 L0 0.9 L0.01 0.83 L0.035 0.76 L0.065 0.7 L0.057 0.66 Z"/>
<path transform="translate(208.6 702.5) scale(9.6 14.5)" d="M0.011 0.239 L0 0.15 L0.03 0.075 L0.09 0.02 L0.172 0 L0.25 0.008 L0.32 0.04 L0.38 0.09 L0.43 0.16 L0.47 0.25 L0.506 0.34 L0.54 0.43 L0.56 0.48 L0.53 0.52 L0.465 0.45 L0.42 0.36 L0.38 0.275 L0.34 0.2 L0.29 0.14 L0.235 0.105 L0.18 0.095 L0.125 0.115 L0.08 0.16 L0.058 0.2 L0.05 0.245 Z M0.76 0.02 L1 0.03 L0.95 0.1 L0.9 0.18 L0.84 0.26 L0.77 0.35 L0.7 0.44 L0.655 0.5 L0.625 0.56 L0.53 0.56 L0.54 0.5 L0.575 0.44 L0.62 0.36 L0.67 0.27 L0.71 0.18 L0.74 0.1 Z M0.535 0.54 L0.5 0.62 L0.465 0.7 L0.43 0.79 L0.405 0.88 L0.42 0.95 L0.46 0.99 L0.506 1 L0.56 0.99 L0.61 0.955 L0.64 0.89 L0.645 0.8 L0.635 0.7 L0.625 0.62 L0.62 0.54 Z"/>
<path d="M329 63.2 V95.9" stroke="#000" stroke-width="2"/>
<circle cx="329" cy="79.1" r="7.2" fill="#000"/>
<rect x="298.7" y="115.6" width="60.5" height="38.1" fill="#aabac5" stroke="#7b9bd6" stroke-width="3" stroke-linejoin="round"/>
<rect x="298.7" y="170.5" width="60.5" height="38.1" fill="url(#hL0)"/>
<g fill="none" stroke="#d65a60" stroke-width="3">
<path d="M297.2 170.5 H360.7" stroke-dasharray="7.6 6.2 6.3 6.2 6.3 6.2 6.3 6.2 6.3 6.2 6.3 6.2"/>
<path d="M297.2 208.6 H360.7" stroke-dasharray="7.6 6.2 6.3 6.2 6.3 6.2 6.3 6.2 6.3 6.2 6.3 6.2"/>
<path d="M298.7 210.1 V169" stroke-dasharray="7.4 6.2 6.3 6.2 6.4 6.2 6.3 6.2"/>
<path d="M359.2 210.1 V169" stroke-dasharray="7.4 6.2 6.3 6.2 6.4 6.2 6.3 6.2"/>
</g>
<path d="M328.7 755.1 V788" stroke="#000" stroke-width="2"/>
<circle cx="328.7" cy="771.2" r="7.2" fill="#000"/>
<rect x="298.5" y="807.3" width="60.8" height="37.8" fill="#aabac5" stroke="#7b9bd6" stroke-width="3" stroke-linejoin="round"/>
<rect x="298.5" y="862.7" width="60.8" height="37.6" fill="url(#hL1)"/>
<g fill="none" stroke="#d65a60" stroke-width="3">
<path d="M297 862.7 H360.8" stroke-dasharray="7.6 6.2 6.3 6.2 6.3 6.2 6.3 6.2 6.3 6.2 6.3 6.2"/>
<path d="M297 900.3 H360.8" stroke-dasharray="7.6 6.2 6.3 6.2 6.3 6.2 6.3 6.2 6.3 6.2 6.3 6.2"/>
<path d="M298.5 901.8 V861.2" stroke-dasharray="7.4 6.2 6.3 6.2 6.4 6.2 6.3 6.2"/>
<path d="M359.3 901.8 V861.2" stroke-dasharray="7.4 6.2 6.3 6.2 6.4 6.2 6.3 6.2"/>
</g>
<text transform="translate(371.514 87.8) scale(0.969 1)" font-family="Liberation Sans" font-size="26.018" font-weight="bold">Data</text>
<text transform="translate(371.196 140.9) scale(1.043 1)" font-family="Liberation Sans" font-size="25.873" font-weight="bold">Z</text>
<path d="M388.1 134.9 H410.5 M404.5 128.8 L411.1 134.9 L404.5 141" stroke="#000" stroke-width="1.75" fill="none" stroke-linejoin="miter" stroke-miterlimit="10"/>
<text transform="translate(412.015 140.9) scale(0.984 1)" font-family="Liberation Sans" font-size="25.873" font-weight="bold">J/</text>
<path transform="translate(434.4 128.2) scale(16.3 18.7)" d="M0 0.05 L0.04 0.018 L0.1 0.003 L0.165 0 L0.215 0.015 L0.25 0.06 L0.265 0.12 L0.275 0.22 L0.285 0.32 L0.305 0.4 L0.34 0.48 L0.39 0.55 L0.44 0.595 L0.49 0.62 L0.49 0.7 L0.4 0.68 L0.31 0.64 L0.24 0.58 L0.185 0.5 L0.15 0.4 L0.135 0.3 L0.125 0.2 L0.11 0.12 L0.085 0.075 L0.045 0.06 Z M1 0.045 L0.96 0.015 L0.91 0 L0.855 0.005 L0.815 0.03 L0.79 0.075 L0.775 0.15 L0.765 0.25 L0.75 0.35 L0.72 0.44 L0.675 0.52 L0.62 0.58 L0.565 0.615 L0.53 0.625 L0.53 0.7 L0.62 0.68 L0.71 0.63 L0.78 0.56 L0.835 0.47 L0.87 0.38 L0.885 0.28 L0.893 0.18 L0.905 0.11 L0.93 0.07 L0.965 0.055 Z M0.462 0.024 L0.55 0.024 L0.55 1 L0.462 1 Z"/>
<path transform="translate(452.2 128.2) scale(12.5 18.7)" d="M0.011 0.239 L0 0.15 L0.03 0.075 L0.09 0.02 L0.172 0 L0.25 0.008 L0.32 0.04 L0.38 0.09 L0.43 0.16 L0.47 0.25 L0.506 0.34 L0.54 0.43 L0.56 0.48 L0.53 0.52 L0.465 0.45 L0.42 0.36 L0.38 0.275 L0.34 0.2 L0.29 0.14 L0.235 0.105 L0.18 0.095 L0.125 0.115 L0.08 0.16 L0.058 0.2 L0.05 0.245 Z M0.76 0.02 L1 0.03 L0.95 0.1 L0.9 0.18 L0.84 0.26 L0.77 0.35 L0.7 0.44 L0.655 0.5 L0.625 0.56 L0.53 0.56 L0.54 0.5 L0.575 0.44 L0.62 0.36 L0.67 0.27 L0.71 0.18 L0.74 0.1 Z M0.535 0.54 L0.5 0.62 L0.465 0.7 L0.43 0.79 L0.405 0.88 L0.42 0.95 L0.46 0.99 L0.506 1 L0.56 0.99 L0.61 0.955 L0.64 0.89 L0.645 0.8 L0.635 0.7 L0.625 0.62 L0.62 0.54 Z"/>
<text transform="translate(473.081 141) scale(1.053 1)" font-family="Liberation Sans" font-size="24.841" font-weight="bold">signal</text>
<text transform="translate(371.196 196.6) scale(1.043 1)" font-family="Liberation Sans" font-size="25.873" font-weight="bold">Z</text>
<path d="M387.9 190.1 H410.3 M404.3 183.25 L410.9 190.1 L404.3 196.95" stroke="#000" stroke-width="1.75" fill="none" stroke-linejoin="miter" stroke-miterlimit="10"/>
<path transform="translate(412.3 184) scale(13.9 18)" d="M0.057 0 L0.255 0 L0.255 0.46 L0.283 0.535 L0.33 0.572 L0.377 0.585 L0.43 0.582 L0.472 0.572 L0.52 0.545 L0.555 0.51 L0.585 0.46 L0.585 0 L0.774 0 L0.774 0.5 L0.79 0.55 L0.83 0.58 L0.88 0.59 L0.93 0.575 L0.97 0.545 L1 0.5 L1 0.55 L0.97 0.62 L0.91 0.67 L0.82 0.698 L0.72 0.695 L0.65 0.67 L0.6 0.625 L0.55 0.66 L0.47 0.685 L0.34 0.692 L0.23 0.678 L0.16 0.66 L0.13 0.69 L0.16 0.75 L0.185 0.83 L0.19 0.9 L0.17 0.96 L0.13 0.993 L0.094 1 L0.05 0.99 L0.015 0.95 L0 0.9 L0.01 0.83 L0.035 0.76 L0.065 0.7 L0.057 0.66 Z"/>
<path transform="translate(427.7 184) scale(13.9 18)" d="M0.057 0 L0.255 0 L0.255 0.46 L0.283 0.535 L0.33 0.572 L0.377 0.585 L0.43 0.582 L0.472 0.572 L0.52 0.545 L0.555 0.51 L0.585 0.46 L0.585 0 L0.774 0 L0.774 0.5 L0.79 0.55 L0.83 0.58 L0.88 0.59 L0.93 0.575 L0.97 0.545 L1 0.5 L1 0.55 L0.97 0.62 L0.91 0.67 L0.82 0.698 L0.72 0.695 L0.65 0.67 L0.6 0.625 L0.55 0.66 L0.47 0.685 L0.34 0.692 L0.23 0.678 L0.16 0.66 L0.13 0.69 L0.16 0.75 L0.185 0.83 L0.19 0.9 L0.17 0.96 L0.13 0.993 L0.094 1 L0.05 0.99 L0.015 0.95 L0 0.9 L0.01 0.83 L0.035 0.76 L0.065 0.7 L0.057 0.66 Z"/>
<path transform="translate(442.1 183.6) scale(12.1 18.2)" d="M0.011 0.239 L0 0.15 L0.03 0.075 L0.09 0.02 L0.172 0 L0.25 0.008 L0.32 0.04 L0.38 0.09 L0.43 0.16 L0.47 0.25 L0.506 0.34 L0.54 0.43 L0.56 0.48 L0.53 0.52 L0.465 0.45 L0.42 0.36 L0.38 0.275 L0.34 0.2 L0.29 0.14 L0.235 0.105 L0.18 0.095 L0.125 0.115 L0.08 0.16 L0.058 0.2 L0.05 0.245 Z M0.76 0.02 L1 0.03 L0.95 0.1 L0.9 0.18 L0.84 0.26 L0.77 0.35 L0.7 0.44 L0.655 0.5 L0.625 0.56 L0.53 0.56 L0.54 0.5 L0.575 0.44 L0.62 0.36 L0.67 0.27 L0.71 0.18 L0.74 0.1 Z M0.535 0.54 L0.5 0.62 L0.465 0.7 L0.43 0.79 L0.405 0.88 L0.42 0.95 L0.46 0.99 L0.506 1 L0.56 0.99 L0.61 0.955 L0.64 0.89 L0.645 0.8 L0.635 0.7 L0.625 0.62 L0.62 0.54 Z"/>
<text transform="translate(462.182 196.4) scale(1.004 1)" font-family="Liberation Sans" font-size="25.945" font-weight="bold">background</text>
<text transform="translate(371.292 782.7) scale(0.957 1)" font-family="Liberation Sans" font-size="29.797" font-weight="bold">Data</text>
<text transform="translate(371.209 837.7) scale(1.019 1)" font-family="Liberation Sans" font-size="29.216" font-weight="bold">H</text>
<path d="M392.1 831.2 H418.1 M411.2 824 L418.7 831.2 L411.2 838.4" stroke="#000" stroke-width="1.6" fill="none" stroke-linejoin="miter" stroke-miterlimit="10"/>
<text transform="translate(419.853 838) scale(0.996 1)" font-family="Liberation Sans" font-size="29.652" font-weight="bold">J/</text>
<path transform="translate(445 823.3) scale(20.1 21.8)" d="M0 0.05 L0.04 0.018 L0.1 0.003 L0.165 0 L0.215 0.015 L0.25 0.06 L0.265 0.12 L0.275 0.22 L0.285 0.32 L0.305 0.4 L0.34 0.48 L0.39 0.55 L0.44 0.595 L0.49 0.62 L0.49 0.7 L0.4 0.68 L0.31 0.64 L0.24 0.58 L0.185 0.5 L0.15 0.4 L0.135 0.3 L0.125 0.2 L0.11 0.12 L0.085 0.075 L0.045 0.06 Z M1 0.045 L0.96 0.015 L0.91 0 L0.855 0.005 L0.815 0.03 L0.79 0.075 L0.775 0.15 L0.765 0.25 L0.75 0.35 L0.72 0.44 L0.675 0.52 L0.62 0.58 L0.565 0.615 L0.53 0.625 L0.53 0.7 L0.62 0.68 L0.71 0.63 L0.78 0.56 L0.835 0.47 L0.87 0.38 L0.885 0.28 L0.893 0.18 L0.905 0.11 L0.93 0.07 L0.965 0.055 Z M0.462 0.024 L0.55 0.024 L0.55 1 L0.462 1 Z"/>
<path transform="translate(466 823.5) scale(14 21.5)" d="M0.011 0.239 L0 0.15 L0.03 0.075 L0.09 0.02 L0.172 0 L0.25 0.008 L0.32 0.04 L0.38 0.09 L0.43 0.16 L0.47 0.25 L0.506 0.34 L0.54 0.43 L0.56 0.48 L0.53 0.52 L0.465 0.45 L0.42 0.36 L0.38 0.275 L0.34 0.2 L0.29 0.14 L0.235 0.105 L0.18 0.095 L0.125 0.115 L0.08 0.16 L0.058 0.2 L0.05 0.245 Z M0.76 0.02 L1 0.03 L0.95 0.1 L0.9 0.18 L0.84 0.26 L0.77 0.35 L0.7 0.44 L0.655 0.5 L0.625 0.56 L0.53 0.56 L0.54 0.5 L0.575 0.44 L0.62 0.36 L0.67 0.27 L0.71 0.18 L0.74 0.1 Z M0.535 0.54 L0.5 0.62 L0.465 0.7 L0.43 0.79 L0.405 0.88 L0.42 0.95 L0.46 0.99 L0.506 1 L0.56 0.99 L0.61 0.955 L0.64 0.89 L0.645 0.8 L0.635 0.7 L0.625 0.62 L0.62 0.54 Z"/>
<text transform="translate(488.063 837.7) scale(1.048 1)" font-family="Liberation Sans" font-size="28.153" font-weight="bold">signal</text>
<text transform="translate(371.209 893) scale(1.024 1)" font-family="Liberation Sans" font-size="29.07" font-weight="bold">H</text>
<path d="M392.2 886.2 H418.3 M410.9 878.9 L418.9 886.2 L410.9 893.5" stroke="#000" stroke-width="1.6" fill="none" stroke-linejoin="miter" stroke-miterlimit="10"/>
<path transform="translate(419.6 878.9) scale(14.6 20.8)" d="M0.011 0.239 L0 0.15 L0.03 0.075 L0.09 0.02 L0.172 0 L0.25 0.008 L0.32 0.04 L0.38 0.09 L0.43 0.16 L0.47 0.25 L0.506 0.34 L0.54 0.43 L0.56 0.48 L0.53 0.52 L0.465 0.45 L0.42 0.36 L0.38 0.275 L0.34 0.2 L0.29 0.14 L0.235 0.105 L0.18 0.095 L0.125 0.115 L0.08 0.16 L0.058 0.2 L0.05 0.245 Z M0.76 0.02 L1 0.03 L0.95 0.1 L0.9 0.18 L0.84 0.26 L0.77 0.35 L0.7 0.44 L0.655 0.5 L0.625 0.56 L0.53 0.56 L0.54 0.5 L0.575 0.44 L0.62 0.36 L0.67 0.27 L0.71 0.18 L0.74 0.1 Z M0.535 0.54 L0.5 0.62 L0.465 0.7 L0.43 0.79 L0.405 0.88 L0.42 0.95 L0.46 0.99 L0.506 1 L0.56 0.99 L0.61 0.955 L0.64 0.89 L0.645 0.8 L0.635 0.7 L0.625 0.62 L0.62 0.54 Z"/>
<text transform="translate(434.128 892.106) scale(0.927 1)" font-family="Liberation Sans" font-size="26.608" font-weight="bold">*</text>
<path transform="translate(444.5 878.9) scale(13.8 20.8)" d="M0.011 0.239 L0 0.15 L0.03 0.075 L0.09 0.02 L0.172 0 L0.25 0.008 L0.32 0.04 L0.38 0.09 L0.43 0.16 L0.47 0.25 L0.506 0.34 L0.54 0.43 L0.56 0.48 L0.53 0.52 L0.465 0.45 L0.42 0.36 L0.38 0.275 L0.34 0.2 L0.29 0.14 L0.235 0.105 L0.18 0.095 L0.125 0.115 L0.08 0.16 L0.058 0.2 L0.05 0.245 Z M0.76 0.02 L1 0.03 L0.95 0.1 L0.9 0.18 L0.84 0.26 L0.77 0.35 L0.7 0.44 L0.655 0.5 L0.625 0.56 L0.53 0.56 L0.54 0.5 L0.575 0.44 L0.62 0.36 L0.67 0.27 L0.71 0.18 L0.74 0.1 Z M0.535 0.54 L0.5 0.62 L0.465 0.7 L0.43 0.79 L0.405 0.88 L0.42 0.95 L0.46 0.99 L0.506 1 L0.56 0.99 L0.61 0.955 L0.64 0.89 L0.645 0.8 L0.635 0.7 L0.625 0.62 L0.62 0.54 Z"/>
<text transform="translate(467.258 893) scale(1.016 1)" font-family="Liberation Sans" font-size="28.981" font-weight="bold">background</text>
<defs></defs>
</svg></body></html>
